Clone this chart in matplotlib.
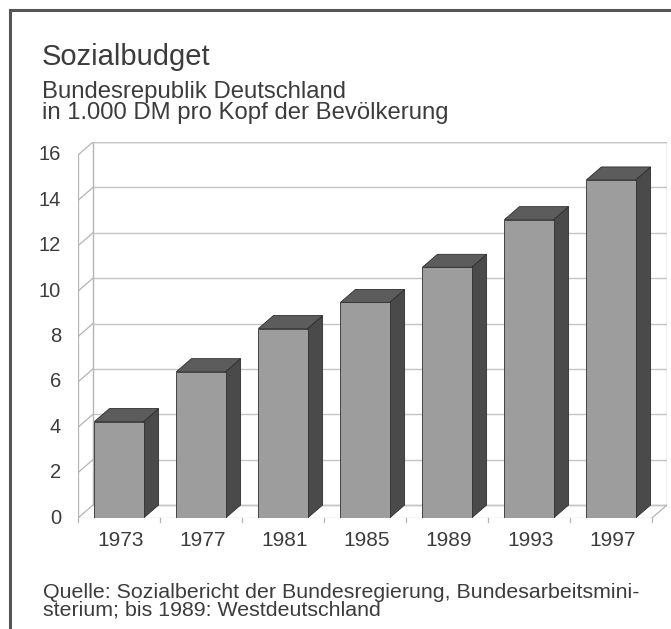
"""Sozialbudget: pseudo-3D column chart recreated with matplotlib."""

import matplotlib.pyplot as plt
from matplotlib.lines import Line2D
from matplotlib.patches import Polygon, Rectangle
from matplotlib.transforms import offset_copy

# --- data ---
YEARS = ["1973", "1977", "1981", "1985", "1989", "1993", "1997"]
VALUES = [4.25, 6.45, 8.35, 9.5, 11.05, 13.15, 14.9]
Y_TICKS = [0, 2, 4, 6, 8, 10, 12, 14, 16]

TITLE = "Sozialbudget"
SUBTITLE = "Bundesrepublik Deutschland\nin 1.000 DM pro Kopf der Bevölkerung"
SOURCE = ("Quelle: Sozialbericht der Bundesregierung, Bundesarbeitsmini-\n"
          "sterium; bis 1989: Westdeutschland")

# --- config ---
W, H, DPI = 671, 629, 100
FONT = "Liberation Sans"
TEXT_COLOR = "#3c3c3c"
FRONT_COLOR = "#9d9d9d"
SIDE_COLOR = "#4a4a4a"
TOP_COLOR = "#5c5c5c"
EDGE_COLOR = "#2e2e2e"
GRID_COLOR = "#c4c4c4"
WALL_COLOR = "#b4b4b4"

BAR_WIDTH = 0.6
DEPTH_X = 0.183   # depth offset in category units
DEPTH_Y = 0.573   # depth offset in value units
Y_MAX = 16

plt.rcParams["font.family"] = FONT


def px(x, y):
    """Figure pixel (from top-left) -> figure fraction."""
    return x / W, 1 - y / H


fig = plt.figure(figsize=(W / DPI, H / DPI), dpi=DPI)
fig.patch.set_facecolor("white")

left, right, bottom, top = 78, 667, 518, 142
ax = fig.add_axes([left / W, 1 - bottom / H, (right - left) / W, (bottom - top) / H])
ax.set_xlim(-0.5, len(YEARS) - 0.5 + DEPTH_X)
ax.set_ylim(0, Y_MAX + DEPTH_Y)
ax.axis("off")

x0 = -0.5
x1 = len(YEARS) - 0.5

# back wall and its gridlines
ax.add_patch(Rectangle((x0 + DEPTH_X, DEPTH_Y), x1 - x0, Y_MAX,
                       facecolor="white", edgecolor=WALL_COLOR, lw=1.0, zorder=1))
for v in Y_TICKS:
    ax.plot([x0 + DEPTH_X, x1 + DEPTH_X], [v + DEPTH_Y, v + DEPTH_Y],
            color=GRID_COLOR, lw=1.0, zorder=1)
    # side wall diagonals
    ax.plot([x0, x0 + DEPTH_X], [v, v + DEPTH_Y], color=WALL_COLOR, lw=0.9, zorder=1)
    # small tick on the front axis
    ax.plot([x0 - 0.06, x0], [v, v], color=WALL_COLOR, lw=0.9, zorder=1)

# front axis line and floor
ax.plot([x0, x0], [0, Y_MAX], color=WALL_COLOR, lw=0.9, zorder=1)
ax.plot([x0, x1], [0, 0], color=WALL_COLOR, lw=0.9, zorder=1)
ax.plot([x1, x1 + DEPTH_X], [0, DEPTH_Y], color=WALL_COLOR, lw=0.9, zorder=1)
for k in range(len(YEARS) + 1):
    ax.plot([x0 + k, x0 + k], [0, -0.18], color=WALL_COLOR, lw=0.9,
            zorder=1, clip_on=False)

# bars
for i, v in enumerate(VALUES):
    l, r = i - BAR_WIDTH / 2, i + BAR_WIDTH / 2
    side = Polygon([(r, 0), (r + DEPTH_X, DEPTH_Y), (r + DEPTH_X, v + DEPTH_Y), (r, v)],
                   closed=True, facecolor=SIDE_COLOR, edgecolor=EDGE_COLOR,
                   lw=0.6, zorder=3)
    roof = Polygon([(l, v), (l + DEPTH_X, v + DEPTH_Y), (r + DEPTH_X, v + DEPTH_Y), (r, v)],
                   closed=True, facecolor=TOP_COLOR, edgecolor=EDGE_COLOR,
                   lw=0.6, zorder=3)
    front = Rectangle((l, 0), BAR_WIDTH, v, facecolor=FRONT_COLOR,
                      edgecolor=EDGE_COLOR, lw=0.6, zorder=4)
    for patch in (side, roof, front):
        ax.add_patch(patch)

# y tick labels
tick_tr = offset_copy(ax.transData, fig=fig, x=-17, y=0, units="dots")
for v in Y_TICKS:
    ax.text(x0, v, str(v), transform=tick_tr, ha="right", va="center",
            fontsize=14.5, color=TEXT_COLOR, clip_on=False)

# year labels
year_tr = offset_copy(ax.transData, fig=fig, x=2, y=-23, units="dots")
for i, year in enumerate(YEARS):
    ax.text(i, 0, year, transform=year_tr, ha="center", va="center",
            fontsize=15, color=TEXT_COLOR, clip_on=False)

# titles and source (baseline of a multi-line text is its last line)
fig.text(*px(42, 65), TITLE, fontsize=21, color=TEXT_COLOR, va="baseline")
fig.text(*px(42, 119), SUBTITLE, fontsize=17.2, color=TEXT_COLOR, va="baseline",
         linespacing=0.95)
fig.text(*px(43, 616), SOURCE, fontsize=15.4, color=TEXT_COLOR, va="baseline",
         linespacing=0.9)

# outer frame (left and top edges)
fig.add_artist(Line2D([10 / W, 10 / W], [0, 1 - 10 / H], transform=fig.transFigure,
                      color="#555555", lw=2.2))
fig.add_artist(Line2D([10 / W, 1], [1 - 10 / H, 1 - 10 / H], transform=fig.transFigure,
                      color="#555555", lw=2.2))

fig.savefig("out.png", dpi=DPI, facecolor="white")
plt.close(fig)
